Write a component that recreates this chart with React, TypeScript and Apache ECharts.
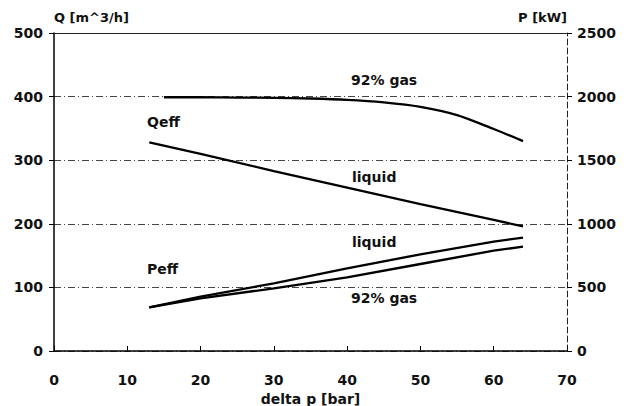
import React, { useEffect, useRef } from "react";
import * as echarts from "echarts";

const qGas: [number, number][] = [
  [15, 399], [20, 399], [25, 398.5], [30, 398], [35, 397], [40, 395],
  [45, 391], [50, 384], [55, 371], [60, 349], [64, 330],
];
const qLiquid: [number, number][] = [
  [13, 328], [20, 310], [30, 283], [40, 257], [50, 231], [60, 206], [64, 196],
];
const pLiquid: [number, number][] = [
  [13, 343], [20, 428], [30, 532], [40, 650], [50, 760], [60, 859], [64, 892],
];
const pGas: [number, number][] = [
  [13, 343], [20, 413], [30, 493], [40, 579], [50, 684], [60, 789], [64, 820],
];

const xTicks = [0, 10, 20, 30, 40, 50, 60, 70];
const qTicks = [0, 100, 200, 300, 400, 500];
const pTicks = [0, 500, 1000, 1500, 2000, 2500];

const FONT = "'DejaVu Sans', Verdana, sans-serif";

export default function App() {
  const ref = useRef<HTMLDivElement>(null);
  useEffect(() => {
    if (!ref.current) return;
    const chart = echarts.init(ref.current, null, { renderer: "svg" });
    const lbl = { color: "#111", fontFamily: FONT, fontWeight: "bold", fontSize: 14 };
    const line = (name: string, data: [number, number][], yAxisIndex: number, smooth: number | boolean) => ({
      name,
      type: "line",
      data,
      yAxisIndex,
      smooth,
      showSymbol: false,
      symbol: "none",
      lineStyle: { color: "#000", width: 2.3 },
      silent: true,
    });
    const ann = (text: string, x: number, y: number) => ({
      type: "text",
      x,
      y,
      style: { text, fill: "#111", font: `bold 14px ${FONT}`, textVerticalAlign: "middle" },
    });
    chart.setOption({
      animation: false,
      backgroundColor: "#fff",
      grid: { left: 54, right: 59, top: 33, bottom: 55, outerBoundsMode: "none", containLabel: false },
      xAxis: [
        {
          type: "value",
          min: xTicks[0],
          max: xTicks[xTicks.length - 1],
          interval: 10,
          name: "delta p [bar]",
          nameLocation: "middle",
          nameGap: 38,
          nameTextStyle: { ...lbl, fontSize: 14 },
          axisLine: { show: true, onZero: false, lineStyle: { color: "#000", width: 1.5 } },
          axisTick: { show: true, inside: true, length: 5, lineStyle: { color: "#000" } },
          axisLabel: { ...lbl, margin: 22 },
          splitLine: { show: false },
        },
        {
          type: "value",
          position: "top",
          min: 0,
          max: 70,
          interval: 10,
          axisLine: { show: true, onZero: false, lineStyle: { color: "#222", width: 1.2 } },
          axisTick: { show: false },
          axisLabel: { show: false },
          splitLine: { show: false },
        },
      ],
      yAxis: [
        {
          type: "value",
          min: qTicks[0],
          max: qTicks[qTicks.length - 1],
          interval: 100,
          name: "Q [m^3/h]",
          nameLocation: "end",
          nameGap: 9,
          nameTextStyle: { ...lbl, fontSize: 13, align: "left" },
          axisLine: { show: true, onZero: false, lineStyle: { color: "#000", width: 1.5 } },
          axisTick: { show: true, length: 5, lineStyle: { color: "#000" } },
          axisLabel: { ...lbl, margin: 11 },
          splitLine: {
            show: true,
            lineStyle: { color: "#444", width: 1, type: [7, 3, 1, 3] },
          },
        },
        {
          type: "value",
          position: "right",
          min: pTicks[0],
          max: pTicks[pTicks.length - 1],
          interval: 500,
          name: "P [kW]",
          nameLocation: "end",
          nameGap: 9,
          nameTextStyle: { ...lbl, fontSize: 13, align: "right" },
          axisLine: { show: true, onZero: false, lineStyle: { color: "#222", width: 1, type: [6, 3] } },
          axisTick: { show: true, length: 5, lineStyle: { color: "#000" } },
          axisLabel: { ...lbl, margin: 10, formatter: (v: number) => String(v) },
          splitLine: { show: false },
        },
      ],
      series: [
        line("Qeff 92% gas", qGas, 0, 0.3),
        line("Qeff liquid", qLiquid, 0, false),
        line("Peff liquid", pLiquid, 1, false),
        line("Peff 92% gas", pGas, 1, false),
      ],
      graphic: [
        ann("92% gas", 351, 80),
        ann("Qeff", 147, 122),
        ann("liquid", 352, 177),
        ann("liquid", 352, 242),
        ann("Peff", 147, 269),
        ann("92% gas", 351, 298),
      ],
    });
    return () => chart.dispose();
  }, []);
  return <div ref={ref} style={{ width: 626, height: 406, position: "absolute", left: 0, top: 0 }} />;
}
